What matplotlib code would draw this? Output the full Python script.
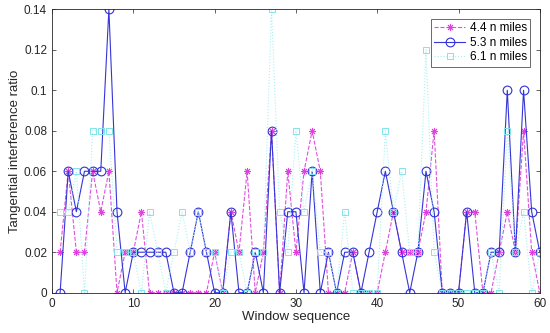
import numpy as np
import matplotlib.pyplot as plt

plt.rcParams['font.family'] = ['Liberation Sans', 'DejaVu Sans']

window = np.arange(1, 61)

ratio_44 = [0.02, 0.06, 0.02, 0.02, 0.06, 0.04, 0.06, 0, 0.02, 0.02,
            0.04, 0, 0, 0, 0, 0, 0, 0, 0, 0.02,
            0, 0.04, 0.02, 0.06, 0, 0.02, 0.08, 0, 0.06, 0.02,
            0.06, 0.08, 0.06, 0, 0, 0, 0.02, 0, 0, 0,
            0.02, 0.04, 0.02, 0.02, 0.02, 0.04, 0.08, 0, 0, 0,
            0.04, 0.04, 0, 0, 0.02, 0.04, 0.02, 0.08, 0.02, 0]

ratio_53 = [0, 0.06, 0.04, 0.06, 0.06, 0.06, 0.14, 0.04, 0, 0.02,
            0.02, 0.02, 0.02, 0.02, 0, 0, 0.02, 0.04, 0.02, 0,
            0, 0.04, 0, 0, 0.02, 0, 0.08, 0, 0.04, 0.04,
            0, 0.06, 0, 0.02, 0, 0.02, 0.02, 0, 0.02, 0.04,
            0.06, 0.04, 0.02, 0, 0.02, 0.06, 0.04, 0, 0, 0,
            0.04, 0, 0, 0.02, 0.02, 0.10, 0.02, 0.10, 0.04, 0.02]

ratio_61 = [0.04, 0.04, 0.06, 0, 0.08, 0.08, 0.08, 0.02, 0.02, 0.02,
            0, 0.04, 0.02, 0, 0.02, 0.04, 0.02, 0.04, 0.02, 0.02,
            0, 0.02, 0.02, 0, 0.02, 0.02, 0.14, 0.04, 0.02, 0.08,
            0.04, 0.06, 0.02, 0.02, 0, 0.04, 0, 0, 0, 0,
            0.08, 0.04, 0.06, 0.02, 0.02, 0.12, 0.02, 0, 0, 0,
            0, 0, 0, 0.02, 0, 0.08, 0.02, 0.04, 0, 0.02]

labels = ['4.4 n miles', '5.3 n miles', '6.1 n miles']

fig = plt.figure(figsize=(5.5, 3.33), dpi=100)
ax = fig.add_axes([0.0945, 0.121, 0.887, 0.851])

ax.plot(window, ratio_44, '--', color='#e050e0', lw=0.8, marker=(8, 2, 0),
        ms=5, mec='#e040e0', mew=0.7, label=labels[0])
ax.plot(window, ratio_53, '-', color='#3535d8', lw=0.8, marker='o',
        ms=6.3, mfc='none', mec='#3030d8', mew=0.8, label=labels[1])
ax.plot(window, ratio_61, ':', color='#a8f0f4', lw=0.8, marker='s',
        ms=5, mfc='none', mec='#80e4ec', mew=0.7, label=labels[2])

ax.set_xlim(0, 60)
ax.set_ylim(0, 0.14)
ax.set_xticks(np.arange(0, 61, 10))
ax.set_yticks(np.arange(0, 0.141, 0.02))
ax.set_yticklabels(['0', '0.02', '0.04', '0.06', '0.08', '0.1', '0.12', '0.14'])
ax.tick_params(direction='in', top=True, right=True, labelsize=8.5,
               colors='#262626', length=3, width=0.5)
for s in ax.spines.values():
    s.set_color('#262626')
    s.set_linewidth(0.6)

ax.set_xlabel('Window sequence', fontsize=9.5, color='#262626', labelpad=1)
ax.set_ylabel('Tangential interference ratio', fontsize=9.5, color='#262626', labelpad=2)

leg = ax.legend(loc='upper right', fontsize=8.5, frameon=True, fancybox=False,
                borderpad=0.3, handlelength=2.6, labelspacing=0.2,
                borderaxespad=0.8, handletextpad=0.4)
leg.get_frame().set_edgecolor('#262626')
leg.get_frame().set_linewidth(0.6)

fig.savefig('out.png', dpi=100)
